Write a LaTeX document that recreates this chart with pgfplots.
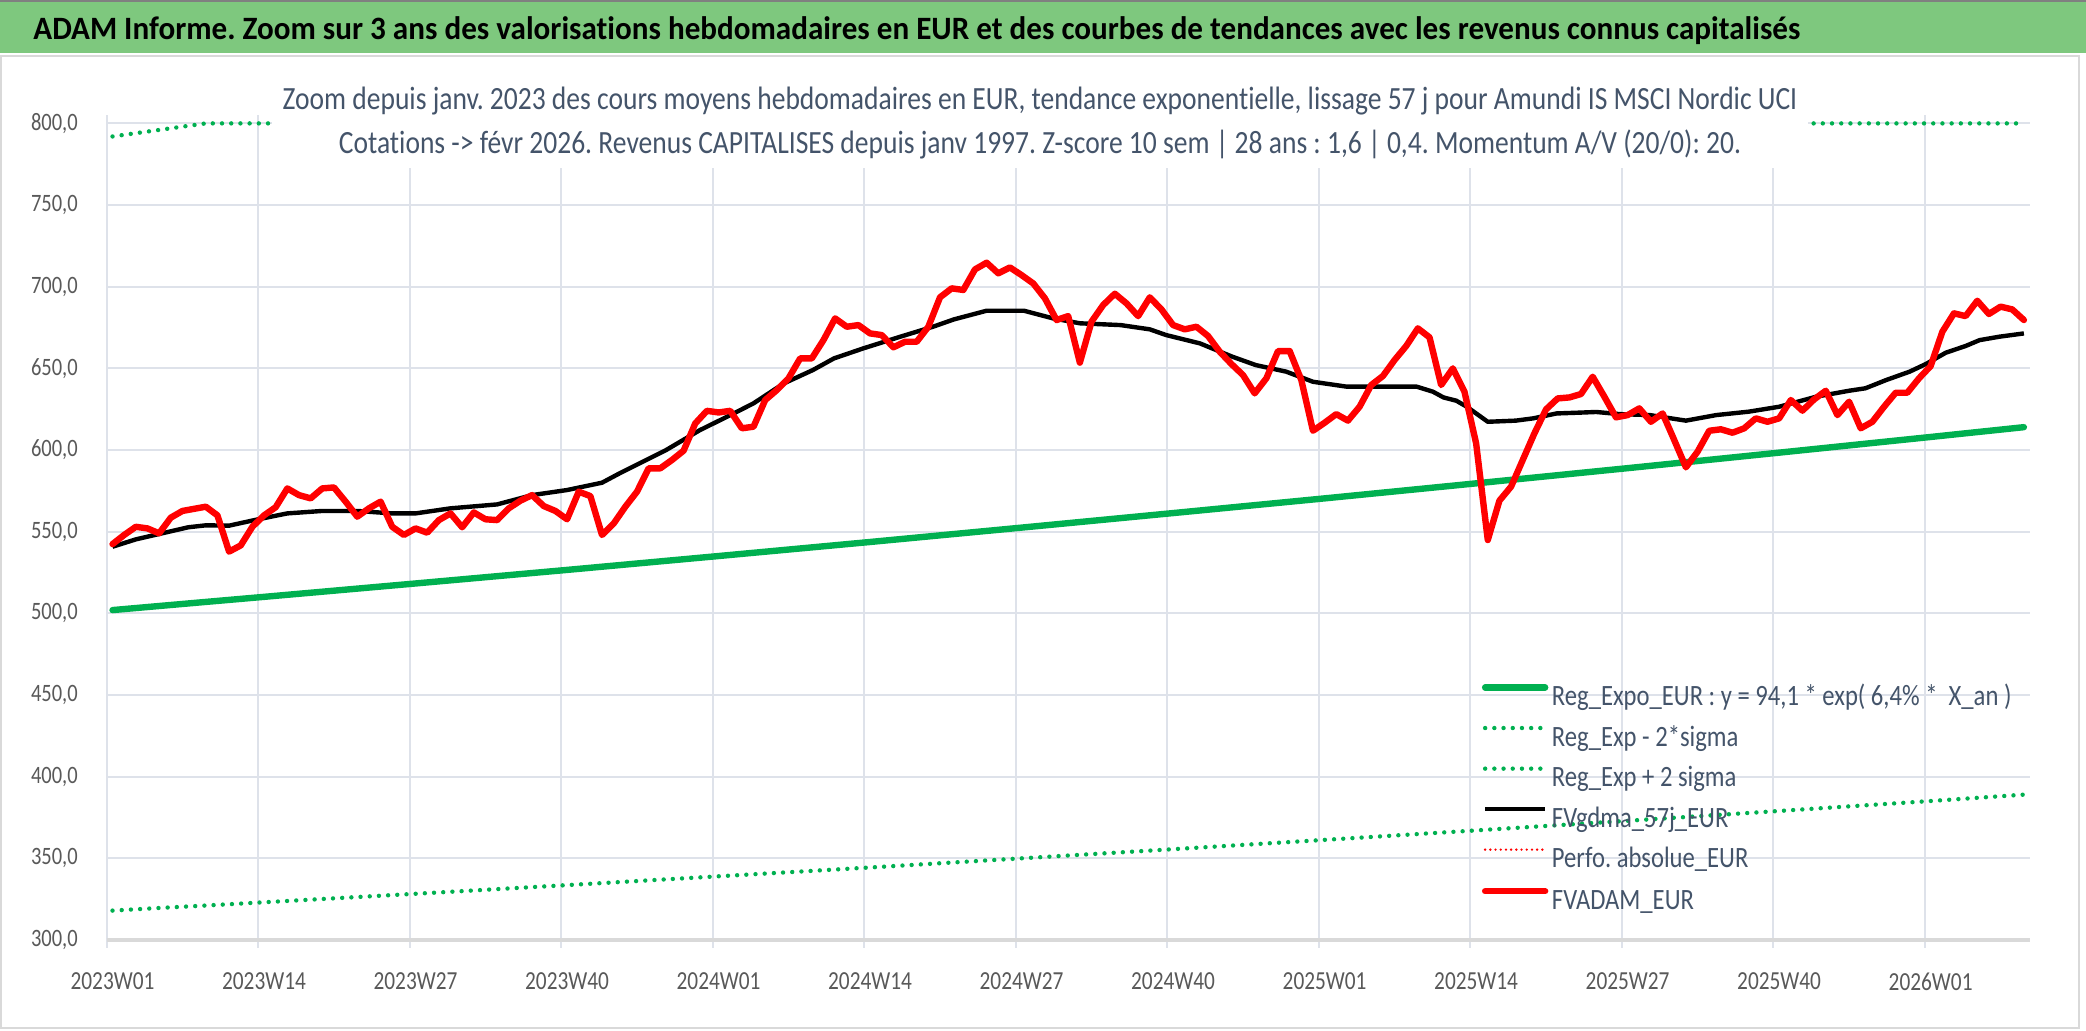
\documentclass[border=0pt]{standalone}
\usepackage{fontspec}
\setmainfont{Carlito}[FakeStretch=0.82, Ligatures=CommonOff]
\newfontfamily\hdfont{Carlito}[FakeStretch=0.955, Ligatures=CommonOff]
\newfontfamily\subfont{Carlito}[FakeStretch=0.85, Ligatures=CommonOff]
\newfontfamily\legfont{Carlito}[FakeStretch=0.835, Ligatures=CommonOff]
\usepackage{pgfplots}
\pgfplotsset{compat=1.18}
\usepackage{pgfplotstable}
\definecolor{xgreen}{HTML}{00B050}
\definecolor{band}{HTML}{7EC87E}
\definecolor{gridc}{HTML}{DEE2EA}
\definecolor{txt}{HTML}{44546A}
\definecolor{tickc}{HTML}{595959}
\definecolor{brd}{HTML}{D9D9D9}
\frenchspacing

\pgfplotstableread{
v
542.4
548
553
552
549
558.6
562.7
564
565.3
560
537.8
541.6
553
560
565
576.5
572.4
570.4
576.5
577.1
568.4
559.2
564.3
568.4
553
548
552
549.4
557.1
561.2
552.7
561.8
557.6
557.1
564.3
569
572.4
565.7
562.7
557.6
574.5
571.8
548
555
565.3
574.5
588.8
588.8
593.9
599.6
616.3
624
623
624
613.3
614.3
630.6
636.7
643.9
656.1
656.1
667.3
680.6
675.5
676.5
671.4
670.4
662.9
666.3
666.3
675.5
693.5
699
698
710.6
714.7
708.2
711.8
707.1
702
692.9
679.6
682
653.5
678.6
688.8
695.7
689.8
682
693.5
686.1
676.5
673.9
675.5
669.8
660.2
652.7
645.9
634.7
643.9
660.6
660.6
642.9
611.8
616.7
622
618
626.5
639.8
645.3
655.1
663.7
674.5
669
639.8
650
635.7
604.1
544.9
569
577.6
593.9
610.2
624.9
631.6
632.2
634.3
644.9
632.7
620
621.4
625.5
617.3
622.4
606.1
589.4
599
611.8
612.7
610.6
613.3
619.4
617.3
619.4
630.6
624.1
631
636.3
621.4
629.6
613.3
617.3
626.5
635.1
635.1
643.9
651.4
672.4
683.7
682
691.4
683.3
687.8
686.1
679.6
}\redtab

\pgfplotstableread{
i v
0 540.8
2 545.3
4 548.6
6.5 552.7
8 553.9
10 553.7
12.5 557.6
15 561.2
18 562.7
21 562.7
24 561.2
26 561.2
29 564.3
33 566.7
36 572.4
39 575.5
42 580
43.5 585.7
45.8 593.9
47.5 600
50.4 612.2
53.3 622.4
55 628.6
57.6 640.8
60.1 649
61.9 656.1
64.4 662.2
67.6 669.4
70.4 675.5
72.2 680
75 685.3
78.2 685.3
80.7 680.6
83 677.6
86.5 676.5
89 673.9
90.4 670.4
93.3 665.3
96.1 657.1
98.1 652
100.7 648
103 641.8
105.9 638.8
111.9 638.8
113.3 635.7
114.2 632.2
115.3 630.2
116.2 626.5
118 617.3
120.4 618
121.9 619.4
123.9 622.4
125.9 622.9
127.3 623.3
129.3 622
131.9 621.4
135 618
137.6 621.4
140.4 623.5
143 626.5
146.2 632.7
149 636.3
150.4 637.8
152.2 642.9
154.2 648
155.6 652.7
157.3 659.6
159 663.7
160.2 667.3
161.9 669.4
164 671.4
}\blacktab

\pgfplotstableread{
i reg low up
0 502.0 318.0 792
4 504.5 319.6 796
8 507.0 321.1 800
13 510.1 323.1 800
26 518.3 328.3 800
39 526.6 333.6 800
52 535.1 339.0 800
65 543.7 344.4 800
78 552.5 350.0 800
91 561.4 355.6 800
104 570.4 361.3 800
117 579.6 367.1 800
130 588.9 373.0 800
143 598.4 379.0 800
156 608.0 385.1 800
164 614.0 389.0 800
}\trendtab

\begin{document}
\begin{tikzpicture}
\path[use as bounding box] (0pt,0pt) rectangle (1043pt,515.5pt);
\fill[white] (0pt,0pt) rectangle (1043pt,515.5pt);
\draw[brd, line width=1pt] (0.5pt,1.5pt) rectangle (1039.5pt,487.5pt);
\fill[band] (0pt,489.2pt) rectangle (1043pt,515.5pt);
\draw[gray, line width=1pt] (0pt,515pt) -- (1043pt,515pt);
\node[anchor=base west, inner sep=0pt, font=\hdfont\bfseries\fontsize{16.3}{19}\selectfont] at (16.5pt,495.8pt) {ADAM Informe. Zoom sur 3 ans des valorisations hebdomadaires en EUR et des courbes de tendances avec les revenus connus capitalisés};

\begin{axis}[
  at={(53.35pt,45.5pt)}, anchor=south west,
  scale only axis, width=961.5pt, height=408.3pt,
  xmin=0, xmax=165, ymin=300, ymax=800,
  clip=false,
  axis line style={draw=none},
  xtick={0,13,...,156},
  xticklabels={2023W01,2023W14,2023W27,2023W40,2024W01,2024W14,2024W27,2024W40,2025W01,2025W14,2025W27,2025W40,2026W01},
  ytick={300,350,...,800},
  yticklabels={{300,0},{350,0},{400,0},{450,0},{500,0},{550,0},{600,0},{650,0},{700,0},{750,0},{800,0}},
  grid=major,
  major grid style={draw=gridc, line width=1pt},
  xtick style={draw=gridc, line width=1pt},
  ytick style={draw=none},
  tick align=outside,
  major tick length=4pt,
  xticklabel style={font=\fontsize{13}{15}\selectfont, text=tickc, inner sep=0pt, anchor=north, yshift=-12.3pt, xshift=2.9pt},
  yticklabel style={font=\fontsize{12.5}{15}\selectfont, text=tickc, inner sep=0pt, anchor=east, xshift=-10.3pt},
  legend cell align=left,
  legend image code/.code={\draw[#1] (0pt,5.5pt) -- (30pt,5.5pt);},
  legend style={at={(axis cs:118.0,456.6)}, anchor=north west, draw=none, fill=none,
    inner sep=0pt, outer sep=0pt,
    font=\legfont\fontsize{14.75}{17}\selectfont, text=txt, row sep=7.2pt,
    nodes={inner sep=0pt, text height=10pt, text depth=3pt},
    /tikz/every odd column/.append style={column sep=1.8pt}},
]
\draw[draw=brd, line width=1.6pt] (axis cs:0,300) -- (axis cs:165,300);
\addplot[xgreen, line width=3.2pt, line cap=round] table[x expr=\thisrow{i}+0.5, y=reg] {\trendtab};
\addlegendentry{Reg\_Expo\_EUR : y = 94,1 * exp( 6,4\% *\ \ X\_an )}
\addplot[xgreen, line width=2.2pt, line cap=round, dash pattern=on 0pt off 4.6pt] table[x expr=\thisrow{i}+0.5, y=low] {\trendtab};
\addlegendentry{Reg\_Exp - 2*sigma}
\addplot[xgreen, line width=2.2pt, line cap=round, dash pattern=on 0pt off 4.6pt] table[x expr=\thisrow{i}+0.5, y=up] {\trendtab};
\addlegendentry{Reg\_Exp + 2 sigma}
\addplot[black, line width=2.2pt, line join=round] table[x expr=\thisrow{i}+0.5, y=v] {\blacktab};
\addlegendentry{FVgdma\_57j\_EUR}
\addlegendimage{red, line width=1.3pt, line cap=round, dash pattern=on 0pt off 2.6pt}
\addlegendentry{Perfo. absolue\_EUR}
\addplot[red, line width=3.2pt, line join=round, line cap=round] table[x expr=\coordindex+0.5, y=v] {\redtab};
\addlegendentry{FVADAM\_EUR}
\end{axis}

\fill[white] (136pt,431.5pt) rectangle (904pt,485.5pt);
\node[anchor=base, inner sep=0pt, text=txt, font=\subfont\fontsize{16.2}{19}\selectfont] at (520pt,460.5pt) {Zoom depuis janv. 2023 des cours moyens hebdomadaires en EUR, tendance exponentielle, lissage 57 j pour Amundi IS MSCI Nordic UCI};
\node[anchor=base, inner sep=0pt, text=txt, font=\subfont\fontsize{16.2}{19}\selectfont] at (520pt,438.5pt) {Cotations -> févr 2026. Revenus CAPITALISES depuis janv 1997. Z-score 10 sem | 28 ans : 1,6 | 0,4. Momentum A/V (20/0): 20.};
\end{tikzpicture}
\end{document}
